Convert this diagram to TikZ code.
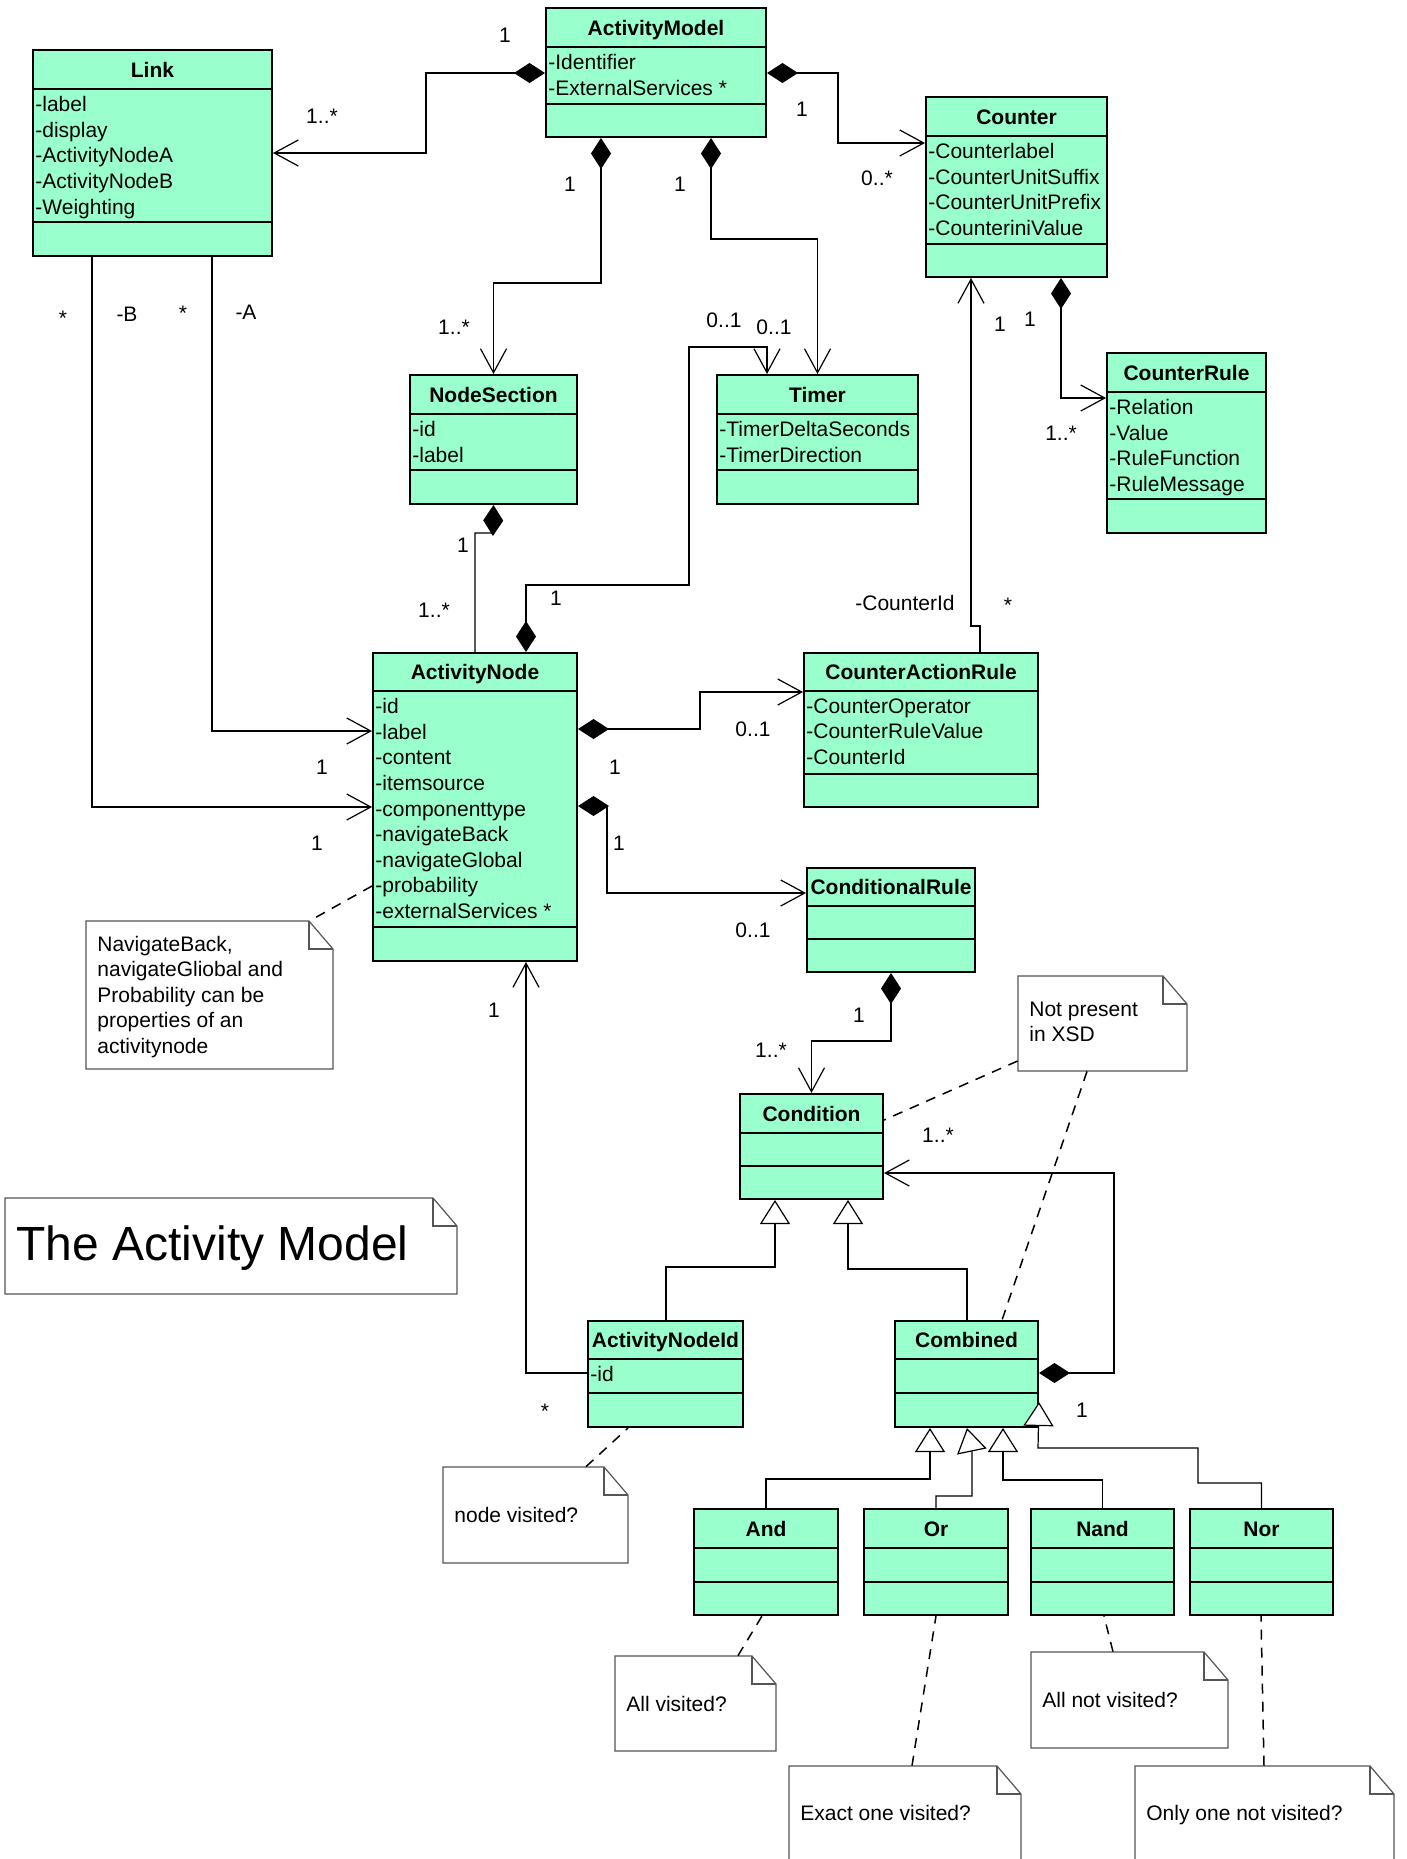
\documentclass[tikz,border=0pt]{standalone}
\usepackage{fontspec}
\setmainfont{Liberation Sans}
\usetikzlibrary{arrows.meta,fit}
\definecolor{classfill}{HTML}{99FFCC}
\definecolor{notegray}{HTML}{555555}
\newcommand{\umlfont}{\fontsize{10.5}{12.8}\selectfont}

\tikzset{
  classbox/.style={draw=black, line width=1pt, fill=classfill, inner sep=0pt},
  classline/.style={draw=black, line width=1pt},
  classtitle/.style={font=\umlfont\bfseries, inner sep=0pt, text height=7.5pt, text depth=0pt},
  classattr/.style={font=\umlfont, inner sep=0pt, align=left, anchor=north west},
  notebox/.style={draw=notegray, line width=0.6pt, fill=white},
  notetext/.style={font=\umlfont, inner sep=0pt, align=left, anchor=north west},
  mult/.style={font=\umlfont, inner sep=0pt, text height=7.5pt, text depth=0pt},
  assoc/.style={line width=0.6pt, -{Straight Barb[length=12pt,width=13pt]}},
  comp/.style={line width=0.6pt, {Diamond[length=15.5pt,width=10pt]}-{Straight Barb[length=12pt,width=13pt]}},
  compline/.style={line width=0.6pt, {Diamond[length=15.5pt,width=10pt]}-},
  gen/.style={line width=0.6pt, -{Triangle[length=12pt,width=15pt,fill=white]}},
  notelink/.style={line width=0.75pt, dash pattern=on 5pt off 4pt},
}

% name, left, top, right, bottom, title rule, attribute rule, title, attributes
\newcommand{\umlclass}[9]{%
  \node[classbox, fit={(#2,#3) (#4,#5)}] (#1) {};
  \draw[classline] (#2,#6) -- (#4,#6) (#2,#7) -- (#4,#7);
  \node[classtitle] (#1-title) at ({(#2+#4)/2},{(#3+#6)/2}) {#8};
  \node[classattr] (#1-attrs) at ({#2+2},{#6+7}) {#9};
}
% name, left, top, right, bottom, text top, text
\newcommand{\umlnote}[7]{%
  \node[fit={(#2,#3) (#4,#5)}, inner sep=0pt] (#1) {};
  \draw[notebox] (#2,#3) -- ({#4-24},#3) -- (#4,{#3+28}) -- (#4,#5) -- (#2,#5) -- cycle;
  \draw[notebox, fill=none] ({#4-24},#3) |- (#4,{#3+28});
  \node[notetext] (#1-text) at ({#2+11},#6) {#7};
}

\begin{document}
\begin{tikzpicture}[x=0.5pt, y=-0.5pt]
\path[use as bounding box, fill=white] (0,0) rectangle (1407,1859);

% classes
\umlclass{link}{33}{50}{272}{256}{89}{222}{Link}{-label\\-display\\-ActivityNodeA\\-ActivityNodeB\\-Weighting}
\umlclass{am}{546}{8}{766}{137}{47}{104}{ActivityModel}{-Identifier\\-ExternalServices *}
\umlclass{counter}{926}{97}{1107}{277}{136}{244}{Counter}{-Counterlabel\\-CounterUnitSuffix\\-CounterUnitPrefix\\-CounteriniValue}
\umlclass{crule}{1107}{353}{1266}{533}{392}{499}{CounterRule}{-Relation\\-Value\\-RuleFunction\\-RuleMessage}
\umlclass{ns}{410}{375}{577}{504}{414}{470}{NodeSection}{-id\\-label}
\umlclass{timer}{717}{375}{918}{504}{414}{470}{Timer}{-TimerDeltaSeconds\\-TimerDirection}
\umlclass{an}{373}{653}{577}{961}{691}{927}{ActivityNode}{-id\\-label\\-content\\-itemsource\\-componenttype\\-navigateBack\\-navigateGlobal\\-probability\\-externalServices *}
\umlclass{car}{804}{653}{1038}{807}{691}{774}{CounterActionRule}{-CounterOperator\\-CounterRuleValue\\-CounterId}
\umlclass{condr}{807}{868}{975}{972}{906}{939}{ConditionalRule}{}
\umlclass{cond}{740}{1094}{883}{1199}{1133}{1166}{Condition}{}
\umlclass{anid}{588}{1321}{743}{1427}{1359}{1393}{ActivityNodeId}{-id}
\umlclass{comb}{895}{1321}{1038}{1427}{1359}{1393}{Combined}{}
\umlclass{and}{694}{1509}{838}{1615}{1548}{1582}{And}{}
\umlclass{or}{864}{1509}{1008}{1615}{1548}{1582}{Or}{}
\umlclass{nand}{1031}{1509}{1174}{1615}{1548}{1582}{Nand}{}
\umlclass{nor}{1190}{1509}{1333}{1615}{1548}{1582}{Nor}{}

% notes
\umlnote{nbnote}{86}{921}{333}{1069}{935.5}{NavigateBack,\\navigateGliobal and\\Probability can be\\properties of an\\activitynode}
\umlnote{titlenote}{5}{1198}{457}{1294}{1225}{{\fontsize{24}{28}\selectfont The Activity Model}}
\umlnote{xsdnote}{1018}{976}{1187}{1071}{1001.5}{Not present\\in XSD}
\umlnote{nvnote}{443}{1467}{628}{1563}{1506.5}{node visited?}
\umlnote{allnote}{615}{1656}{776}{1751}{1695.5}{All visited?}
\umlnote{exactnote}{789}{1766}{1021}{1875}{1804.5}{Exact one visited?}
\umlnote{allnotnote}{1031}{1652}{1228}{1748}{1691.5}{All not visited?}
\umlnote{onlynote}{1135}{1766}{1394}{1875}{1804.5}{Only one not visited?}

% compositions
\draw[comp] (am.west |- 0,73) -- (426,73) |- (link.east |- 0,153);
\draw[comp] (am.east |- 0,73) -- (838,73) |- (counter.west |- 0,143);
\draw[comp] (am.south -| 601,0) -- (601,283) -| (ns.north);
\draw[comp] (am.south -| 711,0) -- (711,239) -| (timer.north);
\draw[comp] (counter.south -| 1061,0) |- (crule.west |- 0,398);
\draw[compline] (ns.south) -- (493,533) -| (an.north);
\draw[comp] (an.north -| 526,0) -- (526,585) -| (689,347) -| (timer.north -| 767,0);
\draw[comp] (an.east |- 0,729) -- (700,729) |- (car.west |- 0,692);
\draw[comp] (an.east |- 0,806) -- (607,806) |- (condr.west |- 0,893);
\draw[comp] (condr.south -| 891,0) -- (891,1041) -| (cond.north);
\draw[comp] (comb.east |- 0,1373) -- (1114,1373) |- (cond.east |- 0,1173);

% associations
\draw[assoc] (link.south -| 212,0) |- (an.west |- 0,731);
\draw[assoc] (link.south -| 92,0) |- (an.west |- 0,807);
\draw[assoc] (car.north -| 980,0) -- (980,626) -| (counter.south -| 971,0);
\draw[assoc] (anid.west |- 0,1373) -| (an.south -| 526,0);

% generalizations
\draw[gen] (anid.north -| 666,0) |- (775,1267) -- (cond.south -| 775,0);
\draw[gen] (comb.north -| 967,0) |- (848,1269) -- (cond.south -| 848,0);
\draw[gen] (and.north) |- (930,1479) -- (comb.south -| 930,0);
\draw[gen] (or.north) |- (972,1496) -- (972,1452) -- (comb.south -| 967,0);
\draw[gen] (nand.north) |- (1003,1480) -- (comb.south -| 1003,0);
\draw[gen] (nor.north) |- (1198,1483) |- (1038,1448) -- (comb.east |- 0,1402);

% note links
\draw[notelink] (an.west |- 0,886) -- (nbnote.north -| 310,0);
\draw[notelink] (xsdnote.west |- 0,1061) -- (cond.east |- 0,1120);
\draw[notelink] (xsdnote.south -| 1087,0) -- (comb.north -| 1002,0);
\draw[notelink] (nvnote.north -| 586,0) -- (anid.south -| 628,0);
\draw[notelink] (allnote.north -| 738,0) -- (and.south -| 762,0);
\draw[notelink] (exactnote.north -| 912,0) -- (or.south -| 936,0);
\draw[notelink] (allnotnote.north -| 1113,0) -- (nand.south -| 1104,0);
\draw[notelink] (onlynote.north -| 1264,0) -- (nor.south -| 1261,0);

% multiplicities and roles
\foreach \x/\y/\txt [count=\i] in {505/35/1, 322/116/1..*, 802/109/1, 877/178/0..*,
    570/184/1, 680/184/1, 63/318/*, 127/314/-B, 183/313/*, 246/312/-A,
    454/327/1..*, 724/320/0..1, 774/327/0..1, 1000/324/1, 1030/319/1, 1061/433/1..*,
    463/545/1, 434/610/1..*, 556/598/1, 905/603/-CounterId, 1008/605/*,
    753/729/0..1, 615/767/1, 322/767/1, 619/843/1, 317/843/1, 753/930/0..1,
    494/1010/1, 859/1015/1, 771/1050/1..*, 938/1135/1..*, 545/1411/*, 1082/1410/1}
  \node[mult] (mult\i) at (\x,\y) {\txt};
\end{tikzpicture}
\end{document}
